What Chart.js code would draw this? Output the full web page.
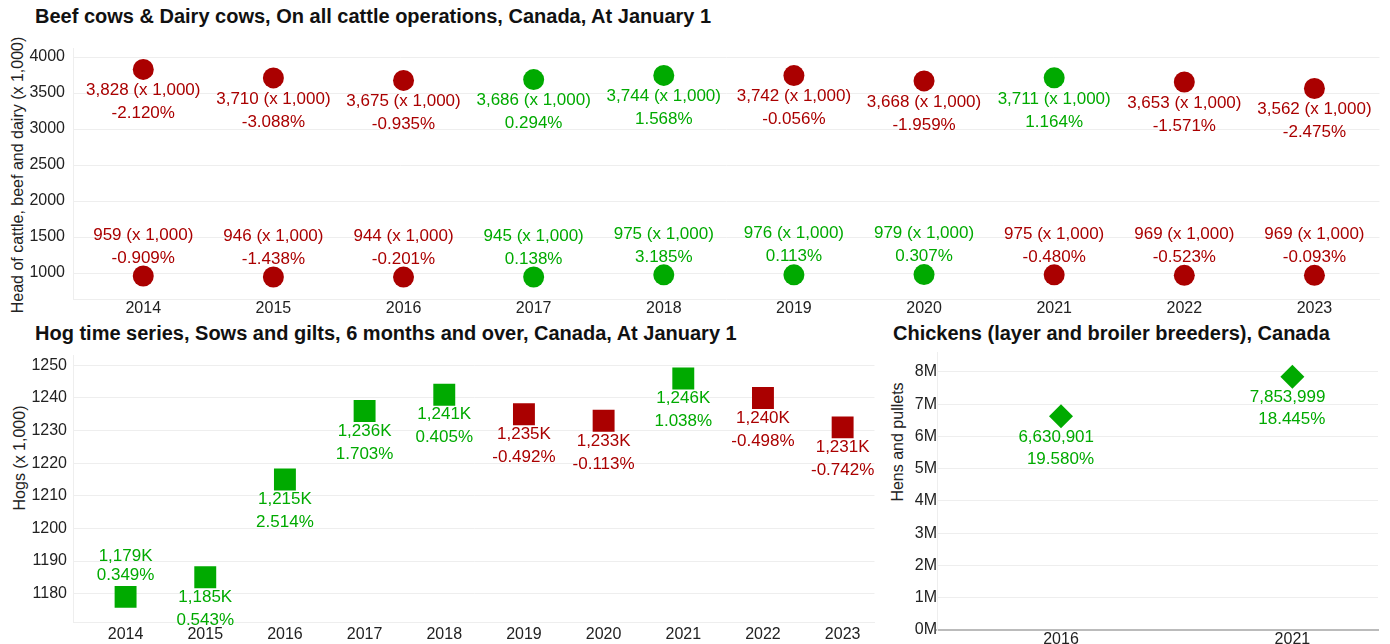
<!DOCTYPE html>
<html>
<head>
<meta charset="utf-8">
<script src="https://cdn.jsdelivr.net/npm/chart.js@4.4.1/dist/chart.umd.min.js"></script>
<style>
body{margin:0;background:#fff;font-family:"Liberation Sans",Arial,sans-serif;width:1390px;height:644px;overflow:hidden;position:relative}
canvas{position:absolute}
.title{position:absolute;font-weight:bold;font-size:20px;color:#111;white-space:nowrap;line-height:1}
.ytitle{position:absolute;font-size:16px;color:#222;white-space:nowrap;line-height:1;transform:translate(-50%,-50%) rotate(-90deg)}
</style>
</head>
<body>
<div class="title" style="left:35px;top:6px">Beef cows &amp; Dairy cows, On all cattle operations, Canada, At January 1</div>
<div class="title" style="left:35px;top:323px">Hog time series, Sows and gilts, 6 months and over, Canada, At January 1</div>
<div class="title" style="left:893px;top:323px">Chickens (layer and broiler breeders), Canada</div>
<div class="ytitle" style="left:18px;top:175px">Head of cattle, beef and dairy (x 1,000)</div>
<div class="ytitle" style="left:20px;top:458px">Hogs (x 1,000)</div>
<div class="ytitle" style="left:898px;top:442px">Hens and pullets</div>

<canvas id="cattle" width="1390" height="320" style="left:0;top:0"></canvas>
<canvas id="hogs" width="890" height="304" style="left:0;top:340px"></canvas>
<canvas id="chickens" width="500" height="304" style="left:890px;top:340px"></canvas>

<script>
// cattle, thousands of head
var years = [2014, 2015, 2016, 2017, 2018, 2019, 2020, 2021, 2022, 2023];
var beefCows = [3828, 3710, 3675, 3686, 3744, 3742, 3668, 3711, 3653, 3562];
var beefChange = [-2.120, -3.088, -0.935, 0.294, 1.568, -0.056, -1.959, 1.164, -1.571, -2.475];
var dairyCows = [959, 946, 944, 945, 975, 976, 979, 975, 969, 969];
var dairyChange = [-0.909, -1.438, -0.201, 0.138, 3.185, 0.113, 0.307, -0.480, -0.523, -0.093];
var cattleTicks = [1000, 1500, 2000, 2500, 3000, 3500, 4000];

// hogs, thousands
var sowsGilts = [1179, 1185, 1215, 1236, 1241, 1235, 1233, 1246, 1240, 1231];
var sowsChange = [0.349, 0.543, 2.514, 1.703, 0.405, -0.492, -0.113, 1.038, -0.498, -0.742];
var hogTicks = [1180, 1190, 1200, 1210, 1220, 1230, 1240, 1250];

// chickens, census years
var chickenYears = [2016, 2021];
var hensPullets = [6630901, 7853999];
var hensChange = [19.580, 18.445];
var chickenTicks = [0, 1000000, 2000000, 3000000, 4000000, 5000000, 6000000, 7000000, 8000000];

var RED = '#aa0000', GREEN = '#00aa00';
var FONT = '"Liberation Sans", Arial, sans-serif';
var colorOf = function(c){ return c >= 0 ? GREEN : RED; };
var fmt = function(n){ return n.toLocaleString('en-US'); };
var pct = function(c){ return c.toFixed(3) + '%'; };

// two-line value labels next to each point
function pointLabels(opts) {
    return {
        id: 'pointLabels',
        afterDatasetsDraw: function(chart) {
            var ctx = chart.ctx;
            ctx.save();
            ctx.font = '17px ' + FONT;
            ctx.textBaseline = 'middle';
            ctx.textAlign = opts.align || 'center';
            chart.data.datasets.forEach(function(ds, di) {
                chart.getDatasetMeta(di).data.forEach(function(pt, i) {
                    var lines = ds.labelLines[i];
                    var above = ds.labelAbove[i];
                    var gapUp = opts.gapAbove || opts.gap;
                    ctx.fillStyle = ds.pointBackgroundColor[i];
                    var x = pt.x + (opts.dx || 0);
                    lines.forEach(function(t, k) {
                        var y = above ? pt.y - opts.above - (lines.length - 1 - k) * gapUp
                                      : pt.y + opts.below + k * opts.gap;
                        ctx.fillText(t, x, y);
                    });
                });
            });
            ctx.restore();
        }
    };
}

function series(xs, ys, changes, fmtValue, style, radius, above) {
    var cols = changes.map(colorOf);
    return {
        data: xs.map(function(x, i){ return {x: x, y: ys[i]}; }),
        pointStyle: style,
        pointRadius: radius,
        pointBorderWidth: 0,
        pointBackgroundColor: cols,
        pointBorderColor: cols,
        showLine: false,
        labelLines: ys.map(function(v, i){ return [fmtValue(v), pct(changes[i])]; }),
        labelAbove: ys.map(function(v, i){ return typeof above === 'function' ? above(i) : above; })
    };
}

function yearAxis(min, max, ticks, h, borderColor, borderWidth, pad) {
    return {
        type: 'linear', min: min, max: max,
        afterBuildTicks: function(s){ s.ticks = ticks.map(function(v){ return {value: v}; }); },
        afterFit: function(s){ s.height = h; },
        grid: {display: false, drawTicks: false},
        border: {display: true, color: borderColor, width: borderWidth},
        ticks: {callback: function(v){ return String(v); }, color: '#222', font: {size: 16, family: FONT},
                padding: pad || 0, maxRotation: 0, autoSkip: false}
    };
}

function valueAxis(min, max, ticks, w, pad, label) {
    return {
        type: 'linear', min: min, max: max,
        afterBuildTicks: function(s){ s.ticks = ticks.map(function(v){ return {value: v}; }); },
        afterFit: function(s){ s.width = w; },
        grid: {color: '#eeeeee', drawTicks: false},
        border: {color: '#eeeeee'},
        ticks: {callback: label, color: '#222', font: {size: 16, family: FONT}, padding: pad}
    };
}

function baseOptions(padding, x, y) {
    return {
        responsive: false,
        animation: false,
        events: [],
        layout: {padding: padding},
        plugins: {legend: {display: false}, tooltip: {enabled: false}},
        scales: {x: x, y: y}
    };
}

new Chart(document.getElementById('cattle'), {
    type: 'scatter',
    data: {datasets: [
        series(years, beefCows, beefChange, function(v){ return fmt(v) + ' (x 1,000)'; }, 'circle', 10.5, false),
        series(years, dairyCows, dairyChange, function(v){ return fmt(v) + ' (x 1,000)'; }, 'circle', 10.5, true)
    ]},
    options: baseOptions({top: 48, right: 6, bottom: 1, left: 0},
        yearAxis(2013.46, 2023.5, years, 20, '#eeeeee', 1),
        valueAxis(640, 4125, cattleTicks, 73, 8, function(v){ return String(v); })),
    plugins: [pointLabels({below: 21, above: 18, gap: 23})]
});

new Chart(document.getElementById('hogs'), {
    type: 'scatter',
    data: {datasets: [
        series(years, sowsGilts, sowsChange, function(v){ return fmt(v) + 'K'; }, 'rect', 15.5,
               function(i){ return i === 0; })
    ]},
    options: baseOptions({top: 10, right: 7, bottom: 0, left: 0},
        yearAxis(2013.34, 2023.4, years, 22, '#eeeeee', 1, 3),
        valueAxis(1171.3, 1253, hogTicks, 73, 6, function(v){ return String(v); })),
    plugins: [pointLabels({below: 20, above: 22, gap: 23, gapAbove: 19})]
});

new Chart(document.getElementById('chickens'), {
    type: 'scatter',
    data: {datasets: [
        series(chickenYears, hensPullets, hensChange, fmt, 'rectRot', 12, false)
    ]},
    options: baseOptions({top: 12, right: 5, bottom: 0, left: 0},
        yearAxis(2013.32, 2022.85, chickenYears, 14, '#bbbbbb', 2),
        valueAxis(0, 8620000, chickenTicks, 47, 0, function(v){ return (v / 1000000) + 'M'; })),
    plugins: [pointLabels({below: 21, above: 18, gap: 22, align: 'right', dx: 33})]
});
</script>
</body>
</html>
